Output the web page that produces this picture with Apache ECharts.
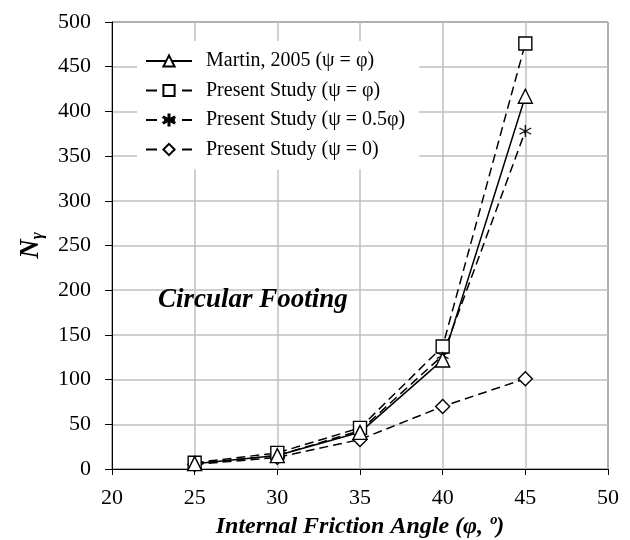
<!DOCTYPE html>
<html>
<head>
<meta charset="utf-8">
<script src="https://cdn.jsdelivr.net/npm/echarts@6/dist/echarts.min.js"></script>
<style>html,body{margin:0;padding:0;background:#fff;}#chart{width:630px;height:540px;}</style>
</head>
<body>
<div id="chart"></div>
<script>
const angles = [25, 30, 35, 40, 45];
const martin = [6, 15, 41, 122, 417];
const presentPsiPhi = [7, 18, 46, 137, 476];
const presentPsiHalf = [6, 15, 43, 127, 378];
const presentPsiZero = [5, 13, 33, 70, 101];
const seriesNames = ['Martin, 2005 (ψ = φ)', 'Present Study (ψ = φ)', 'Present Study (ψ = 0.5φ)', 'Present Study (ψ = 0)'];

const FONT = '"Liberation Serif", "Times New Roman", serif';
const star = 'path://M-0.4,-5 L0.4,-5 L0.4,5 L-0.4,5 Z M4.13,2.85 L4.53,2.15 L-4.13,-2.85 L-4.53,-2.15 Z M4.53,-2.15 L4.13,-2.85 L-4.53,2.15 L-4.13,2.85 Z';

function pairs(vals){ return angles.map((a,i)=>[a, vals[i]]); }

function mk(name, vals, symbol, size, dashed){
  return {
    name: name, type: 'line', data: pairs(vals),
    symbol: symbol, symbolSize: size, showAllSymbol: true,
    lineStyle: {color: '#000', width: 1.5, type: dashed ? [9, 5] : 'solid'},
    itemStyle: {color: symbol === star ? '#000' : '#fff', borderColor: '#000', borderWidth: symbol === star ? 0.2 : 1.4},
    emphasis: {disabled: true},
    animation: false
  };
}

const legendData = seriesNames.map((n, i) => ({
  name: n,
  lineStyle: {color: '#000', width: 2, type: i === 0 ? 'solid' : [11, 7]}
}));

const chart = echarts.init(document.getElementById('chart'));
chart.setOption({
  animation: false,
  backgroundColor: '#fff',
  grid: {left: 112, right: 22, top: 22, bottom: 71, outerBoundsMode: 'none', containLabel: false, show: true, borderColor: '#000', borderWidth: 1, backgroundColor: 'transparent'},
  xAxis: {
    type: 'value', min: 20, max: 50, interval: 5,
    name: 'Internal Friction Angle (φ, º)', nameLocation: 'middle', nameGap: 46,
    nameTextStyle: {fontFamily: FONT, fontSize: 24, fontWeight: 'bold', fontStyle: 'italic', color: '#000'},
    axisLine: {show: true, onZero: false, lineStyle: {color: '#000', width: 1}},
    axisTick: {show: true, inside: false, length: 6, lineStyle: {color: '#000'}},
    axisLabel: {fontFamily: FONT, fontSize: 22, color: '#000', margin: 18},
    splitLine: {show: true, lineStyle: {color: '#c0c0c0', width: 1.5}}
  },
  yAxis: {
    type: 'value', min: 0, max: 500, interval: 50,
    name: '{n|N}{g|γ}', nameLocation: 'middle', nameGap: 66, nameRotate: 90,
    nameTextStyle: {rich: {
      n: {fontFamily: FONT, fontSize: 27, fontWeight: 'bold', fontStyle: 'italic', color: '#000'},
      g: {fontFamily: FONT, fontSize: 17, fontWeight: 'bold', fontStyle: 'italic', color: '#000', verticalAlign: 'bottom', padding: [12, 0, 0, 0]}
    }},
    axisLine: {show: true, lineStyle: {color: '#000', width: 1}},
    axisTick: {show: true, inside: false, length: 7, lineStyle: {color: '#000'}},
    axisLabel: {fontFamily: FONT, fontSize: 22, color: '#000', margin: 21},
    splitLine: {show: true, lineStyle: {color: '#c0c0c0', width: 1.5}}
  },
  legend: {
    data: legendData, orient: 'vertical', left: 137, top: 41,
    itemWidth: 46, itemHeight: 14, itemGap: 9.5,
    padding: [10, 14, 10, 8],
    backgroundColor: '#fff',
    textStyle: {fontFamily: FONT, fontSize: 20, color: '#000', padding: [0, 0, 0, 9]},
    selectedMode: false
  },
  graphic: [{
    type: 'text', left: 158, top: 287, z: 10,
    style: {text: 'Circular Footing', font: 'italic bold 27px "Liberation Serif", serif', fill: '#000'}
  }],
  series: [
    mk(seriesNames[3], presentPsiZero, 'diamond', 14, true),
    mk(seriesNames[2], presentPsiHalf, star, 12, true),
    mk(seriesNames[1], presentPsiPhi, 'rect', 13, true),
    mk(seriesNames[0], martin, 'triangle', 14, false)
  ]
});
</script>
</body>
</html>
